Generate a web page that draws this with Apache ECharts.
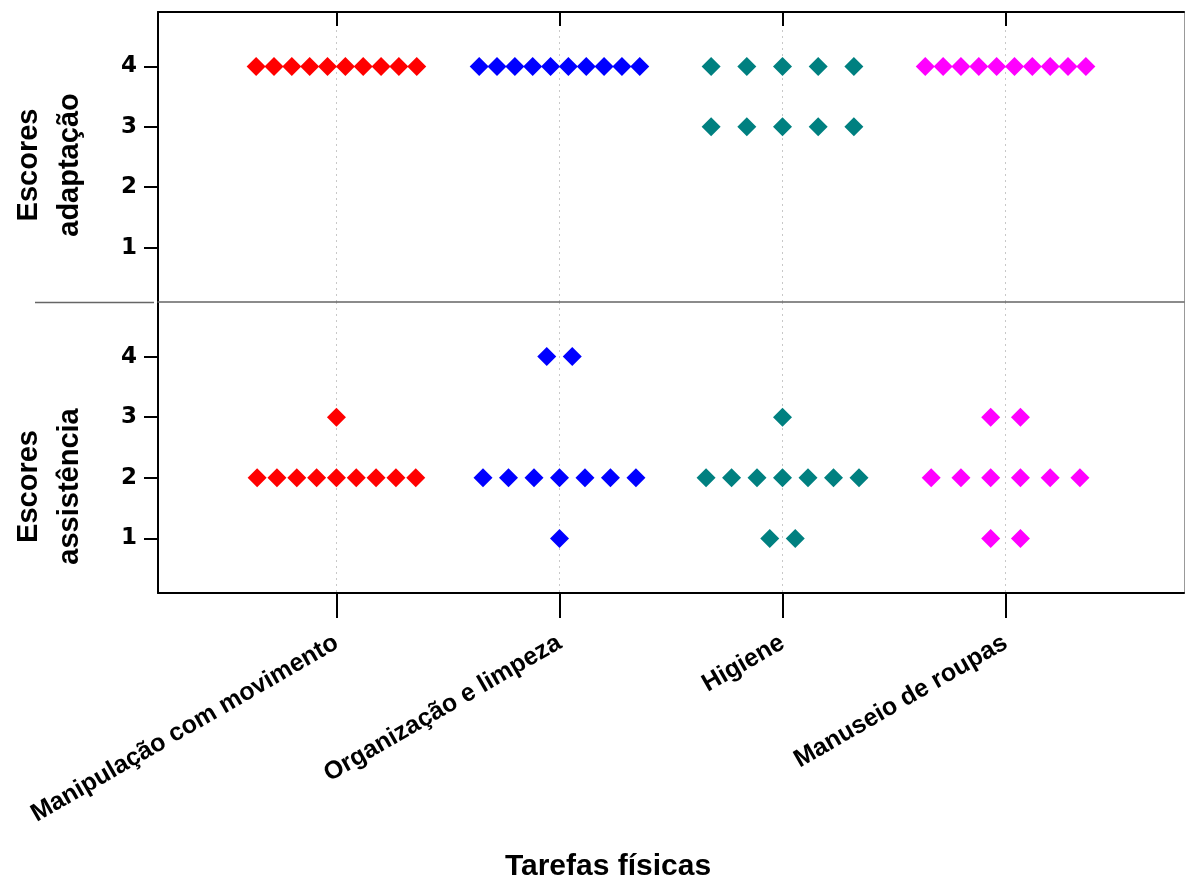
<!DOCTYPE html>
<html><head><meta charset="utf-8">
<script src="https://cdn.jsdelivr.net/npm/echarts@6/dist/echarts.min.js"></script>
<style>html,body{margin:0;padding:0;background:#fff}#c{width:1185px;height:886px}</style>
</head><body><div id="c"></div>
<script>
// ---- data ----
const categories = ['Manipulação com movimento', 'Organização e limpeza', 'Higiene', 'Manuseio de roupas'];
const colors = ['#FF0000', '#0000FF', '#008080', '#FF00FF'];
const tickValues = [1, 2, 3, 4];
const panelNames = ['Escores\nadaptação', 'Escores\nassistência'];
const xAxisTitle = 'Tarefas físicas';

const adaptManip  = [4, 4, 4, 4, 4, 4, 4, 4, 4, 4];
const adaptOrg    = [4, 4, 4, 4, 4, 4, 4, 4, 4, 4];
const adaptHig    = [4, 4, 4, 4, 4, 3, 3, 3, 3, 3];
const adaptManus  = [4, 4, 4, 4, 4, 4, 4, 4, 4, 4];

const assistManip = [3, 2, 2, 2, 2, 2, 2, 2, 2, 2];
const assistOrg   = [4, 4, 2, 2, 2, 2, 2, 2, 2, 1];
const assistHig   = [3, 2, 2, 2, 2, 2, 2, 2, 1, 1];
const assistManus = [3, 3, 2, 2, 2, 2, 2, 2, 1, 1];

const adaptScores = [adaptManip, adaptOrg, adaptHig, adaptManus];
const assistScores = [assistManip, assistOrg, assistHig, assistManus];

// ---- layout helpers ----
const BAND = 0.8; // horizontal band used by the dot swarm, in category units
function swarm(scores, catIndex) {
  const counts = {};
  scores.forEach(v => { counts[v] = (counts[v] || 0) + 1; });
  const nmax = Math.max.apply(null, Object.values(counts));
  const slot = BAND / nmax;
  const seen = {};
  return scores.map(v => {
    seen[v] = seen[v] === undefined ? 0 : seen[v] + 1;
    return [catIndex + 1 + (seen[v] - (counts[v] - 1) / 2) * slot, v];
  });
}

const FONT = 'Liberation Sans, Arial, sans-serif';
const series = [];
[adaptScores, assistScores].forEach((panel, p) => {
  panel.forEach((scores, c) => {
    series.push({
      type: 'scatter',
      name: categories[c],
      xAxisIndex: p === 0 ? 0 : 2,
      yAxisIndex: p === 0 ? 0 : 2,
      symbol: 'diamond',
      symbolSize: 19,
      itemStyle: { color: colors[c], opacity: 1 },
      data: swarm(scores, c),
      z: 3
    });
  });
});

function yLeft(gridIndex, name, shift) {
  return {
    type: 'value', gridIndex: gridIndex, position: 'left', min: 0.1, max: 4.9,
    axisLine: { show: true, onZero: false, lineStyle: { color: '#000', width: 2 } },
    axisTick: { show: true, inside: false, length: 14, customValues: tickValues, lineStyle: { color: '#000', width: 2 } },
    axisLabel: { show: true, customValues: tickValues, margin: 21, fontFamily: 'DejaVu Sans, sans-serif', fontWeight: 'bold', fontSize: 23, color: '#000' },
    splitLine: { show: false },
    name: name, nameLocation: 'middle', nameGap: 68,
    nameTextStyle: { fontFamily: FONT, fontWeight: 'bold', fontSize: 29, lineHeight: 41, color: '#000', padding: [0, shift, 0, 0] }
  };
}
function yRight(gridIndex) {
  return {
    type: 'value', gridIndex: gridIndex, position: 'right', min: 0.1, max: 4.9,
    axisLine: { show: true, onZero: false, lineStyle: { color: '#999', width: 1 } },
    axisTick: { show: false }, axisLabel: { show: false }, splitLine: { show: false }
  };
}

const option = {
  animation: false,
  backgroundColor: '#fff',
  grid: [
    { left: 154, top: 12, width: 1030, height: 290 },
    { left: 154, top: 302, width: 1030, height: 291 }
  ],
  xAxis: [
    {
      type: 'value', gridIndex: 0, position: 'top', min: 0.2, max: 4.8,
      axisLine: { show: true, onZero: false, lineStyle: { color: '#000', width: 2 } },
      axisTick: { show: true, inside: true, length: 14, customValues: tickValues, lineStyle: { color: '#000', width: 2 } },
      axisLabel: { show: false, customValues: tickValues },
      splitLine: { show: true, lineStyle: { color: '#c8c8c8', width: 1, type: [2, 4] } }
    },
    {
      type: 'value', gridIndex: 0, position: 'bottom', min: 0.2, max: 4.8,
      axisLine: { show: true, onZero: false, lineStyle: { color: '#666', width: 1.5 } },
      axisTick: { show: false }, axisLabel: { show: false }, splitLine: { show: false }
    },
    {
      type: 'value', gridIndex: 1, position: 'bottom', min: 0.2, max: 4.8,
      axisLine: { show: true, onZero: false, lineStyle: { color: '#000', width: 2 } },
      axisTick: { show: true, inside: false, length: 25, customValues: tickValues, lineStyle: { color: '#000', width: 2 } },
      axisLabel: {
        show: true, customValues: tickValues, rotate: 30, margin: 48,
        fontFamily: FONT, fontWeight: 'bold', fontSize: 25, color: '#000',
        formatter: v => categories[Math.round(v) - 1]
      },
      splitLine: { show: true, lineStyle: { color: '#c8c8c8', width: 1, type: [2, 4] } },
      name: xAxisTitle, nameLocation: 'middle', nameGap: 259,
      nameTextStyle: { fontFamily: FONT, fontWeight: 'bold', fontSize: 30, color: '#000', padding: [0, 126, 0, 0] }
    }
  ],
  yAxis: [yLeft(0, panelNames[0], 16), yRight(0), yLeft(1, panelNames[1], 78), yRight(1)],
  graphic: [
    { type: 'line', shape: { x1: 35, y1: 302.5, x2: 154, y2: 302.5 }, style: { stroke: '#666', lineWidth: 1.5 }, silent: true }
  ],
  series: series
};

const chart = echarts.init(document.getElementById('c'), null, { renderer: 'canvas' });
chart.setOption(option);
</script>
</body></html>
